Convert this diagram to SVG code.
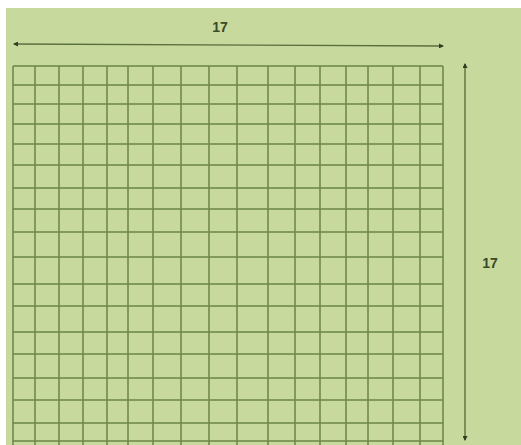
<svg xmlns="http://www.w3.org/2000/svg" width="521" height="445" viewBox="0 0 521 445">
<defs>
<style>
.bg{fill:#c7d99d}
.g line{stroke:#6f8a4a;stroke-width:2;stroke-opacity:0.8}
.dim{stroke:#5a6f3e;stroke-width:1.4;fill:none}
.lbl{font-family:"Liberation Sans",Arial,sans-serif;font-size:14px;font-weight:bold;fill:#3b4a2a;text-anchor:middle}
</style>
<marker id="ah" viewBox="0 0 10 10" refX="8" refY="5" markerWidth="5" markerHeight="5" orient="auto-start-reverse" markerUnits="userSpaceOnUse">
<path d="M0,0 L10,5 L0,10 Z" fill="#2f3d20"/>
</marker>
</defs>
<rect width="521" height="445" fill="#ffffff"/>
<rect class="bg" x="6" y="8" width="515" height="437"/>
<g id="grid" class="g">
<line x1="13" y1="66" x2="13" y2="445"/>
<line x1="35" y1="66" x2="35" y2="445"/>
<line x1="59" y1="66" x2="59" y2="445"/>
<line x1="83" y1="66" x2="83" y2="445"/>
<line x1="107" y1="66" x2="107" y2="445"/>
<line x1="128" y1="66" x2="128" y2="445"/>
<line x1="153" y1="66" x2="153" y2="445"/>
<line x1="181" y1="66" x2="181" y2="445"/>
<line x1="209" y1="66" x2="209" y2="445"/>
<line x1="237" y1="66" x2="237" y2="445"/>
<line x1="268" y1="66" x2="268" y2="445"/>
<line x1="295" y1="66" x2="295" y2="445"/>
<line x1="320" y1="66" x2="320" y2="445"/>
<line x1="346" y1="66" x2="346" y2="445"/>
<line x1="368" y1="66" x2="368" y2="445"/>
<line x1="393" y1="66" x2="393" y2="445"/>
<line x1="420" y1="66" x2="420" y2="445"/>
<line x1="443" y1="66" x2="443" y2="445"/>
<line x1="13" y1="66" x2="443" y2="66"/>
<line x1="13" y1="85" x2="443" y2="85"/>
<line x1="13" y1="104" x2="443" y2="104"/>
<line x1="13" y1="124" x2="443" y2="124"/>
<line x1="13" y1="144" x2="443" y2="144"/>
<line x1="13" y1="165" x2="443" y2="165"/>
<line x1="13" y1="188" x2="443" y2="188"/>
<line x1="13" y1="209" x2="443" y2="209"/>
<line x1="13" y1="232" x2="443" y2="232"/>
<line x1="13" y1="257" x2="443" y2="257"/>
<line x1="13" y1="284" x2="443" y2="284"/>
<line x1="13" y1="306" x2="443" y2="306"/>
<line x1="13" y1="332" x2="443" y2="332"/>
<line x1="13" y1="354" x2="443" y2="354"/>
<line x1="13" y1="378" x2="443" y2="378"/>
<line x1="13" y1="400" x2="443" y2="400"/>
<line x1="13" y1="423" x2="443" y2="423"/>
<line x1="13" y1="441" x2="443" y2="441"/>
</g>
<g id="connectors">
<line class="dim" x1="14" y1="44" x2="443" y2="46" marker-start="url(#ah)" marker-end="url(#ah)"/>
<line class="dim" x1="465" y1="64" x2="465" y2="440" marker-start="url(#ah)" marker-end="url(#ah)"/>
</g>
<g id="label-top"><text class="lbl" x="220" y="32">17</text></g>
<g id="label-right"><text class="lbl" x="490" y="268">17</text></g>
</svg>
